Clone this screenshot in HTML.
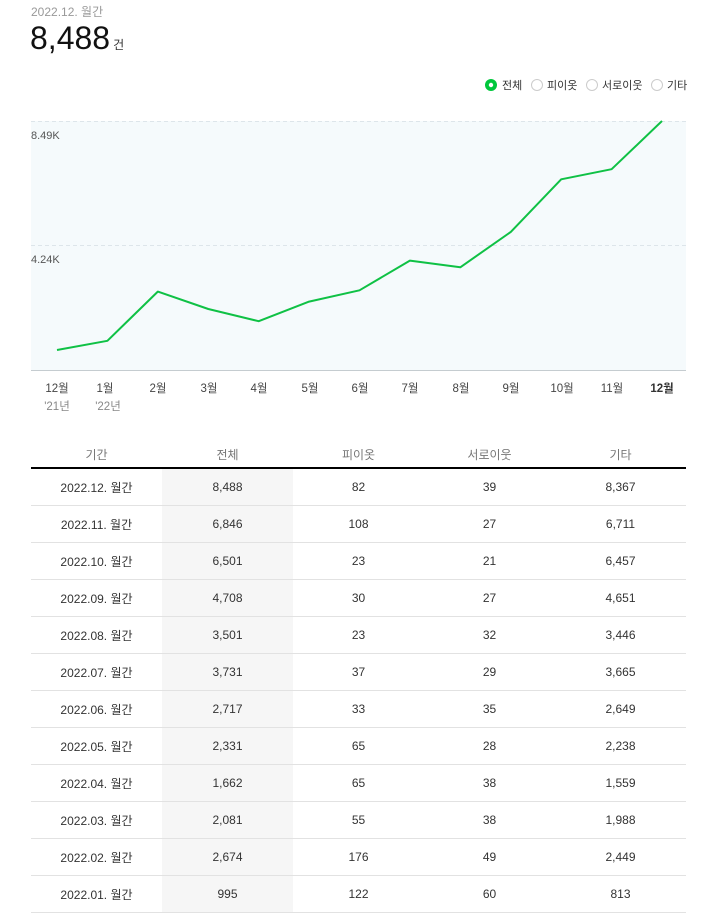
<!DOCTYPE html>
<html><head><meta charset="utf-8">
<style>
html,body{margin:0;padding:0;background:#fff;}
body{width:716px;height:910px;position:relative;overflow:hidden;font-family:"Liberation Sans","Noto Sans CJK KR",sans-serif;}
.abs{position:absolute;white-space:nowrap;}
table{position:absolute;left:31px;top:436px;width:655px;border-collapse:collapse;table-layout:fixed;}
th{height:26px;padding:5px 0 0 0;font-weight:normal;font-size:12px;color:#777;border-bottom:2px solid #000;text-align:center;}
td{height:36px;font-size:12px;color:#333;text-align:center;padding:0;border-bottom:1px solid #e2e2e2;}
td.g{background:#f6f6f6;}
</style></head><body>
<div class="abs" style="left:31px;top:3px;font-size:12px;color:#999;">2022.12. 월간</div>
<div class="abs" style="left:30px;top:18px;font-size:32px;color:#111;line-height:40px;">8,488<span style="font-size:12px;margin-left:3px;color:#333;">건</span></div>

<svg class="abs" style="left:0;top:0" width="716" height="430" xmlns="http://www.w3.org/2000/svg">
  <g font-family="Liberation Sans, Noto Sans CJK KR, sans-serif" font-size="11" fill="#333">
    <circle cx="491" cy="85" r="6" fill="#00c73c"/>
    <circle cx="491" cy="85" r="2.2" fill="#fff"/>
    <text x="502" y="89">전체</text>
    <circle cx="537" cy="85" r="5.5" fill="#fff" stroke="#ccc"/>
    <text x="547" y="89">피이옷</text>
    <circle cx="592" cy="85" r="5.5" fill="#fff" stroke="#ccc"/>
    <text x="602" y="89">서로이웃</text>
    <circle cx="657" cy="85" r="5.5" fill="#fff" stroke="#ccc"/>
    <text x="667" y="89">기타</text>
  </g>
  <rect x="31" y="121" width="655" height="249" fill="#f5fafc"/>
  <line x1="31" y1="121.5" x2="686" y2="121.5" stroke="#dde5ea" stroke-dasharray="4,3"/>
  <line x1="31" y1="245.5" x2="686" y2="245.5" stroke="#dde5ea" stroke-dasharray="4,3"/>
  <line x1="31" y1="370.5" x2="686" y2="370.5" stroke="#c5ccd0"/>
  <g font-family="Liberation Sans, sans-serif" font-size="11" fill="#555">
    <text x="31" y="139">8.49K</text>
    <text x="31" y="263">4.24K</text>
  </g>
  <polyline fill="none" stroke="#0fc145" stroke-width="2" stroke-linejoin="round"
   points="57,350 107.4,340.8 157.8,291.6 208.3,309 258.7,321.2 309.1,301.6 359.5,290.3 409.9,260.6 460.3,267.3 510.8,231.9 561.2,179.3 611.6,169.2 662,121"/>
  <g font-family="Liberation Sans, Noto Sans CJK KR, sans-serif" font-size="11.5" fill="#444" text-anchor="middle">
    <text x="57" y="392">12월</text>
    <text x="105" y="392">1월</text>
    <text x="158" y="392">2월</text>
    <text x="209" y="392">3월</text>
    <text x="259" y="392">4월</text>
    <text x="310" y="392">5월</text>
    <text x="360" y="392">6월</text>
    <text x="410" y="392">7월</text>
    <text x="461" y="392">8월</text>
    <text x="511" y="392">9월</text>
    <text x="562" y="392">10월</text>
    <text x="612" y="392">11월</text>
    <text x="662" y="392" font-weight="bold" fill="#333">12월</text>
    <text x="57" y="410" fill="#888">'21년</text>
    <text x="108" y="410" fill="#888">'22년</text>
  </g>
</svg>

<table>
<thead><tr><th>기간</th><th>전체</th><th>피이옷</th><th>서로이웃</th><th>기타</th></tr></thead>
<tbody>
<tr><td>2022.12. 월간</td><td class="g">8,488</td><td>82</td><td>39</td><td>8,367</td></tr>
<tr><td>2022.11. 월간</td><td class="g">6,846</td><td>108</td><td>27</td><td>6,711</td></tr>
<tr><td>2022.10. 월간</td><td class="g">6,501</td><td>23</td><td>21</td><td>6,457</td></tr>
<tr><td>2022.09. 월간</td><td class="g">4,708</td><td>30</td><td>27</td><td>4,651</td></tr>
<tr><td>2022.08. 월간</td><td class="g">3,501</td><td>23</td><td>32</td><td>3,446</td></tr>
<tr><td>2022.07. 월간</td><td class="g">3,731</td><td>37</td><td>29</td><td>3,665</td></tr>
<tr><td>2022.06. 월간</td><td class="g">2,717</td><td>33</td><td>35</td><td>2,649</td></tr>
<tr><td>2022.05. 월간</td><td class="g">2,331</td><td>65</td><td>28</td><td>2,238</td></tr>
<tr><td>2022.04. 월간</td><td class="g">1,662</td><td>65</td><td>38</td><td>1,559</td></tr>
<tr><td>2022.03. 월간</td><td class="g">2,081</td><td>55</td><td>38</td><td>1,988</td></tr>
<tr><td>2022.02. 월간</td><td class="g">2,674</td><td>176</td><td>49</td><td>2,449</td></tr>
<tr><td>2022.01. 월간</td><td class="g">995</td><td>122</td><td>60</td><td>813</td></tr>
</tbody>
</table>
</body></html>
